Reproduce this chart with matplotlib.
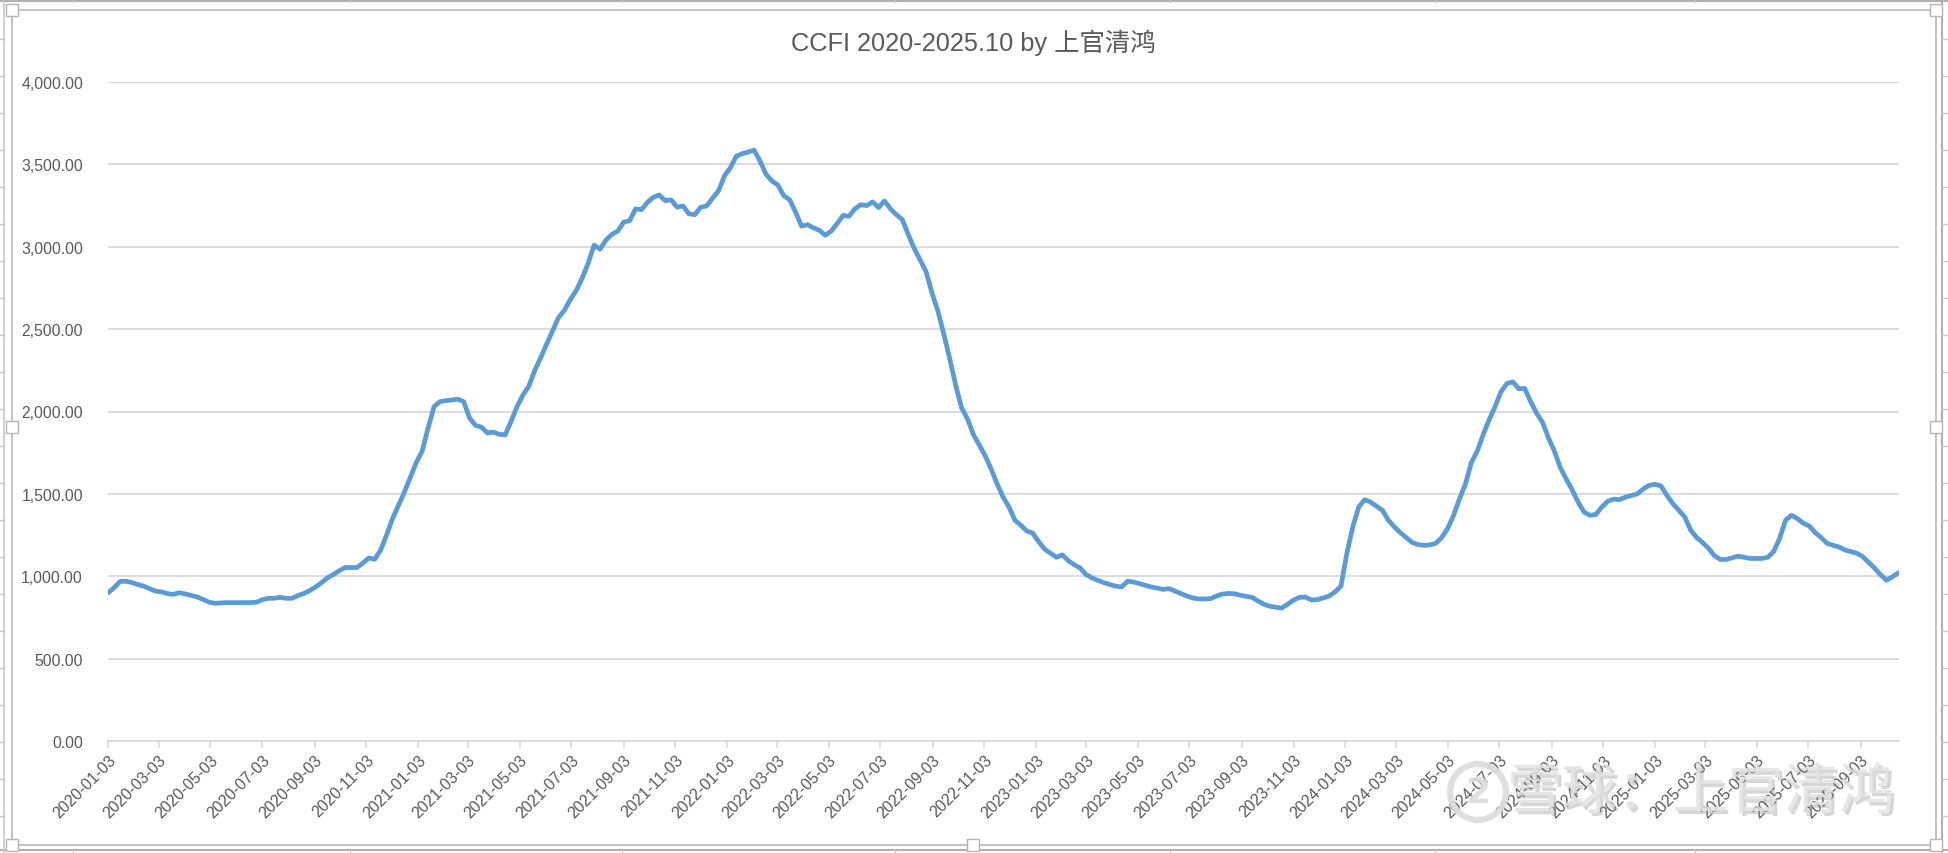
import matplotlib
matplotlib.use("Agg")
import matplotlib.pyplot as plt
import matplotlib.dates as mdates
import matplotlib.patches as mpatches
from matplotlib.ticker import FuncFormatter
import pandas as pd

# ---------------- data (weekly CCFI, Fridays from 2020-01-03) ----------------
start_date = "2020-01-03"
ccfi_2020 = [900, 929, 968, 970, 962, 950, 940, 925, 910, 905, 895, 890, 900,
             893, 884, 875, 860, 843, 836, 838, 840, 840, 840, 840, 840, 842,
             857, 866, 866, 872, 866, 866, 882, 895, 912, 935, 960, 990, 1010,
             1033, 1053, 1053, 1053, 1080, 1111, 1103, 1160, 1250, 1350, 1430,
             1510, 1600]
ccfi_2021 = [1690, 1760, 1900, 2030, 2060, 2066, 2070, 2075, 2060, 1960, 1915,
             1905, 1870, 1875, 1862, 1858, 1940, 2030, 2100, 2154, 2250, 2327,
             2410, 2490, 2570, 2615, 2680, 2735, 2810, 2900, 3010, 2985, 3040,
             3075, 3095, 3150, 3158, 3230, 3225, 3270, 3300, 3314, 3280, 3285,
             3240, 3248, 3200, 3195, 3240, 3248, 3295, 3340, 3430]
ccfi_2022 = [3480, 3550, 3565, 3575, 3587, 3520, 3440, 3400, 3375, 3310, 3285,
             3210, 3125, 3134, 3115, 3100, 3070, 3095, 3140, 3190, 3185, 3230,
             3255, 3250, 3272, 3238, 3278, 3230, 3195, 3165, 3075, 2990, 2920,
             2850, 2720, 2610, 2470, 2320, 2160, 2022, 1955, 1860, 1795, 1730,
             1650, 1560, 1480, 1420, 1340, 1309, 1275, 1262]
ccfi_2023 = [1210, 1165, 1140, 1115, 1130, 1095, 1070, 1050, 1010, 990, 975,
             961, 950, 940, 935, 970, 965, 955, 945, 935, 928, 920, 925, 910,
             895, 880, 868, 862, 862, 864, 880, 892, 896, 894, 885, 878, 872,
             850, 830, 818, 812, 807, 830, 855, 872, 874, 856, 858, 868, 880,
             905, 940]
ccfi_2024 = [1140, 1300, 1420, 1465, 1450, 1425, 1400, 1340, 1300, 1265, 1235,
             1205, 1192, 1188, 1190, 1200, 1235, 1290, 1370, 1470, 1560, 1690,
             1760, 1860, 1950, 2030, 2120, 2170, 2180, 2138, 2140, 2060, 1990,
             1935, 1840, 1760, 1660, 1590, 1525, 1450, 1390, 1370, 1375, 1420,
             1455, 1468, 1465, 1480, 1490, 1500, 1530, 1552]
ccfi_2025 = [1558, 1548, 1490, 1440, 1400, 1360, 1280, 1235, 1205, 1170, 1125,
             1102, 1102, 1112, 1122, 1115, 1108, 1108, 1108, 1115, 1150, 1230,
             1340, 1370, 1350, 1322, 1305, 1265, 1235, 1200, 1188, 1178, 1160,
             1150, 1140, 1120, 1085, 1050, 1010, 976, 996, 1020]

title_text = "CCFI 2020-2025.10 by 上官清鸿"
watermark_text = "雪球：上官清鸿"
y_ticks = [0, 500, 1000, 1500, 2000, 2500, 3000, 3500, 4000]

values = ccfi_2020 + ccfi_2021 + ccfi_2022 + ccfi_2023 + ccfi_2024 + ccfi_2025
dates = pd.date_range(start_date, periods=len(values), freq="7D")
tick_dates = [pd.Timestamp(year=y, month=m, day=3)
              for y in range(2020, 2026) for m in range(1, 13, 2)]
tick_dates = [d for d in tick_dates if d <= dates[-1]]

# ---------------- figure ----------------
W, H = 1948, 854
fig = plt.figure(figsize=(W / 100, H / 100), dpi=100)
fig.patch.set_facecolor("white")

def fx(px):
    return px / W

def fy(py):
    return 1 - py / H

# spreadsheet background lines around the chart object
grey = "#b0b0b0"
fig.add_artist(plt.Line2D([fx(0), fx(W)], [fy(2), fy(2)], color=grey, lw=1.5))
fig.add_artist(plt.Line2D([fx(0), fx(W)], [fy(851), fy(851)], color=grey, lw=1.5))
fig.add_artist(plt.Line2D([fx(4), fx(4)], [fy(0), fy(H)], color="#c8c8c8", lw=1.2))
fig.add_artist(plt.Line2D([fx(1942), fx(1942)], [fy(0), fy(H)], color=grey, lw=1.5))
for yy in range(40, 854, 37):
    fig.add_artist(plt.Line2D([fx(0), fx(4)], [fy(yy), fy(yy)], color="#c8c8c8", lw=1))
    fig.add_artist(plt.Line2D([fx(1942), fx(1948)], [fy(yy), fy(yy)], color="#c8c8c8", lw=1))
for xx in [73, 350, 622, 895, 1170, 1435, 1695]:
    fig.add_artist(plt.Line2D([fx(xx), fx(xx)], [fy(0), fy(3)], color="#c8c8c8", lw=1))
    fig.add_artist(plt.Line2D([fx(xx), fx(xx)], [fy(851), fy(854)], color="#c8c8c8", lw=1))

# chart object border
fig.add_artist(mpatches.Rectangle((fx(12), fy(846)), fx(1936) - fx(12), fy(11) - fy(846),
                                  transform=fig.transFigure, fill=True, facecolor="white",
                                  edgecolor="#c4c4c4", lw=1.5, zorder=0))
# selection handles
for hx, hy in [(12, 11), (1936, 11), (12, 428), (1936, 428), (12, 846), (973, 846), (1936, 846)]:
    fig.add_artist(mpatches.Rectangle((fx(hx - 6), fy(hy + 6)), fx(12), 12 / H,
                                      transform=fig.transFigure, facecolor="white",
                                      edgecolor="#b5b5b5", lw=1, zorder=5))

# ---------------- axes ----------------
ax = fig.add_axes([fx(108), fy(742), fx(1899) - fx(108), fy(83) - fy(742)])
ax.set_facecolor("none")
ax.plot(dates, values, color="#5B9BD5", lw=3.4, solid_joinstyle="round",
        solid_capstyle="round", zorder=3)

ax.set_ylim(0, 4000)
ax.set_yticks(y_ticks)
ax.yaxis.set_major_formatter(FuncFormatter(lambda v, p: f"{v:,.2f}"))
ax.set_xlim(dates[0], dates[-1] + pd.Timedelta(days=1))
ax.set_xticks(tick_dates)
ax.xaxis.set_major_formatter(mdates.DateFormatter("%Y-%m-%d"))

ax.grid(axis="y", color="#d9d9d9", lw=1.3)
ax.set_axisbelow(True)
for s in ["top", "right", "left"]:
    ax.spines[s].set_visible(False)
ax.spines["bottom"].set_color("#d9d9d9")
ax.spines["bottom"].set_linewidth(1.3)

ax.tick_params(axis="y", length=0, pad=18, labelsize=11.3, labelcolor="#595959")
ax.tick_params(axis="x", length=5, width=1.2, color="#d9d9d9", pad=3,
               labelsize=11.5, labelcolor="#595959")
for lab in ax.get_yticklabels() + ax.get_xticklabels():
    lab.set_family(["Liberation Sans", "DejaVu Sans"])
for lab in ax.get_xticklabels():
    lab.set_rotation(45)
    lab.set_ha("right")
    lab.set_va("top")
    lab.set_rotation_mode("anchor")

# title
fig.text(fx(973), fy(43), title_text, ha="center", va="center", fontsize=18.3,
         color="#595959", family=["Liberation Sans", "Noto Sans CJK SC"])

# watermark
wm_props = dict(ha="left", va="center", fontsize=40, family=["Noto Sans CJK SC", "DejaVu Sans"])
fig.text(fx(1507) + 0.0014, fy(793) - 0.0035, watermark_text, color="#8a8a8a", alpha=0.35, **wm_props)
fig.text(fx(1507), fy(793), watermark_text, color="#e2e2e2", alpha=0.85, **wm_props)
fig.add_artist(mpatches.Ellipse((fx(1478), fy(793)), 56 / W, 56 / H, transform=fig.transFigure,
                                fill=False, edgecolor="#dcdcdc", lw=4.5, alpha=0.9, zorder=6))
fig.text(fx(1478), fy(793), "2", ha="center", va="center", fontsize=26, color="#dcdcdc",
         family="DejaVu Sans", fontweight="bold", alpha=0.9)

fig.savefig("out.png", dpi=100)
